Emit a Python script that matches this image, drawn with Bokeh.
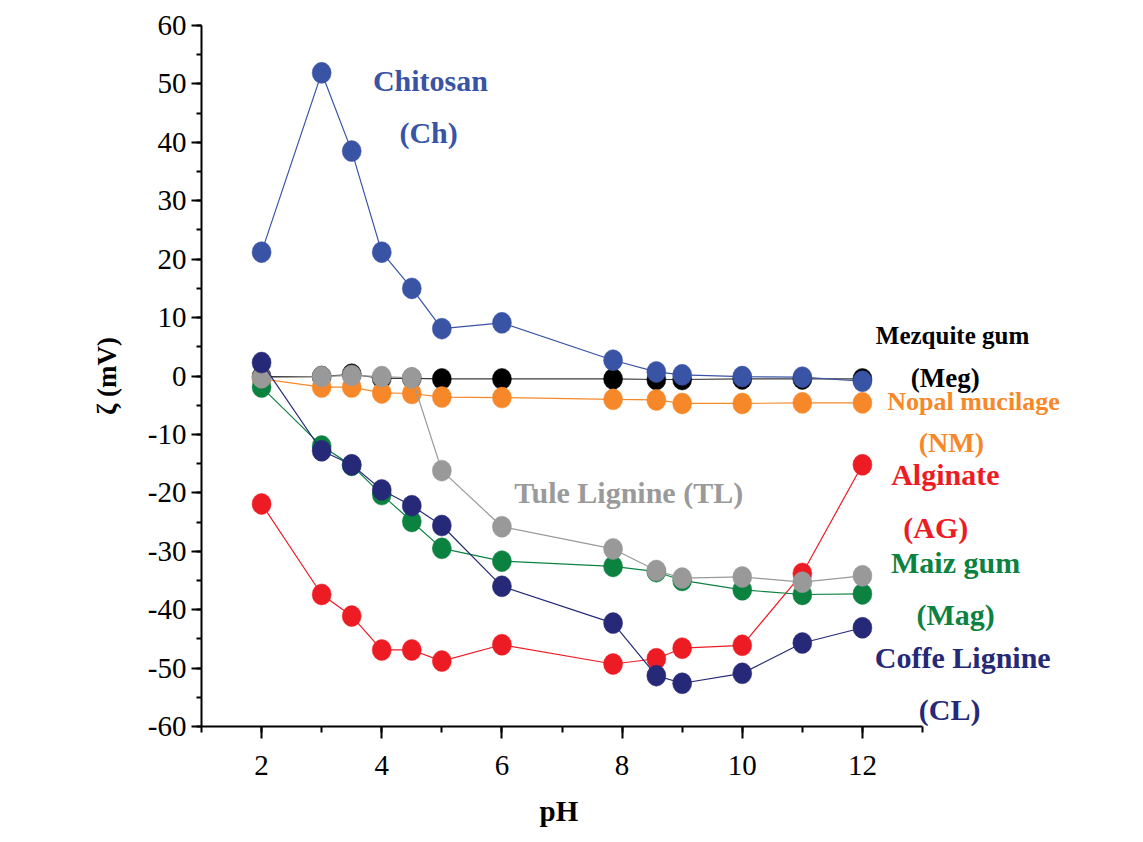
from bokeh.plotting import figure
from bokeh.models import Label, SingleIntervalTicker, Range1d, CustomJSTickFormatter, Title
from bokeh.embed import file_html
from bokeh.resources import INLINE

# ---- data ----
ph = [2, 3, 3.5, 4, 4.5, 5, 6, 7.85, 8.57, 9, 10, 11, 12]
chitosan = [21.2, 51.9, 38.5, 21.2, 15.0, 8.1, 9.1, 2.7, 0.7, 0.2, -0.1, -0.2, -0.9]
mezquite = [-0.1, -0.1, 0.3, -0.4, -0.4, -0.5, -0.5, -0.5, -0.6, -0.6, -0.5, -0.5, -0.5]
nopal = [-0.5, -1.9, -1.9, -2.9, -3.0, -3.6, -3.7, -4.0, -4.1, -4.7, -4.7, -4.6, -4.6]
tule = [-0.3, -0.1, 0.1, -0.1, -0.3, -16.2, -25.8, -29.6, -33.3, -34.6, -34.4, -35.3, -34.2]
maiz = [-1.9, -12.0, -15.3, -20.3, -24.9, -29.5, -31.7, -32.6, -33.5, -35.0, -36.6, -37.4, -37.3]
coffe = [2.3, -12.8, -15.2, -19.5, -22.2, -25.6, -36.0, -42.3, -51.3, -52.6, -50.9, -45.7, -43.1]
alginate = [-21.9, -37.4, -41.1, -46.9, -46.9, -48.8, -46.0, -49.3, -48.4, -46.6, -46.1, -33.8, -15.2]

# series: (values, marker color, line color), drawn bottom -> top
series = [
    (mezquite, "#000000", "#3a3a3a"),
    (nopal, "#f7882a", "#f7882a"),
    (alginate, "#ed1c24", "#ed1c24"),
    (maiz, "#0c8241", "#0c8241"),
    (tule, "#999999", "#999999"),
    (coffe, "#262977", "#262977"),
    (chitosan, "#3953a5", "#3953a5"),
]

# annotation labels: text, color, size, x, y
labels = [
    ("Chitosan", "#3953a5", "30px", 4.81, 50.6),
    ("(Ch)", "#3953a5", "30px", 4.78, 41.7),
    ("Mezquite gum", "#000000", "25px", 13.50, 7.0),
    ("(Meg)", "#000000", "27px", 13.38, -0.3),
    ("Nopal mucilage", "#f7882a", "26px", 13.85, -4.3),
    ("(NM)", "#f7882a", "28px", 13.48, -11.4),
    ("Alginate", "#ed1c24", "30px", 13.38, -16.9),
    ("(AG)", "#ed1c24", "30px", 13.22, -26.0),
    ("Maiz gum", "#0c8241", "30px", 13.55, -32.0),
    ("(Mag)", "#0c8241", "30px", 13.55, -40.8),
    ("Coffe Lignine", "#262977", "30px", 13.67, -48.2),
    ("(CL)", "#262977", "30px", 13.45, -57.1),
    ("Tule Lignine (TL)", "#9a9a9a", "30px", 8.11, -20.0),
]

FONT = "Liberation Serif"

p = figure(width=1143, height=842, output_backend="svg", toolbar_location=None,
           x_range=Range1d(1, 16.678), y_range=Range1d(-60, 60),
           min_border_left=201, min_border_right=0, min_border_top=25, min_border_bottom=115)
p.outline_line_color = None
p.xgrid.visible = False
p.ygrid.visible = False
p.background_fill_color = "white"
p.border_fill_color = "white"

for vals, mc, lc in series:
    p.line(ph, vals, line_color=lc, line_width=1.2)
    p.ellipse(ph, vals, width=19, height=21, width_units="screen", height_units="screen",
              fill_color=mc, line_color=mc, line_width=0.5)

for txt, col, size, x, y in labels:
    p.add_layout(Label(x=x, y=y, text=txt, text_color=col, text_font=FONT,
                       text_font_size=size, text_font_style="bold",
                       text_align="center", text_baseline="middle"))

# axes
p.xaxis.ticker = SingleIntervalTicker(interval=2, num_minor_ticks=2)
p.yaxis.ticker = SingleIntervalTicker(interval=10, num_minor_ticks=2)
p.xaxis.bounds = (1, 13)
for ax in (p.xaxis, p.yaxis):
    ax.formatter = CustomJSTickFormatter(code="return tick.toFixed(0);")
    ax.axis_line_width = 2
    ax.major_tick_line_width = 2
    ax.minor_tick_line_width = 2
    ax.major_tick_in = 0
    ax.minor_tick_in = 0
    ax.major_label_text_font = FONT
    ax.major_label_text_font_size = "29px"
    ax.major_label_text_color = "black"
    ax.axis_label_text_font = FONT
    ax.axis_label_text_font_size = "27px"
    ax.axis_label_text_font_style = "bold"
    ax.axis_label_text_color = "black"

p.xaxis.major_tick_out = 12
p.xaxis.minor_tick_out = 6
p.xaxis.major_label_standoff = 17

p.yaxis.major_tick_out = 10
p.yaxis.minor_tick_out = 5
p.yaxis.major_label_standoff = 5
p.yaxis.axis_label = "ζ (mV)"
p.yaxis.axis_label_standoff = 23

# x-axis title, centred under the bounded axis (pH 1..13)
p.add_layout(Title(text="pH", align="left", offset=338, standoff=31,
                   text_font=FONT, text_font_size="29px", text_font_style="bold",
                   text_color="black"), "below")

open("out.html", "w").write(file_html(p, INLINE))
